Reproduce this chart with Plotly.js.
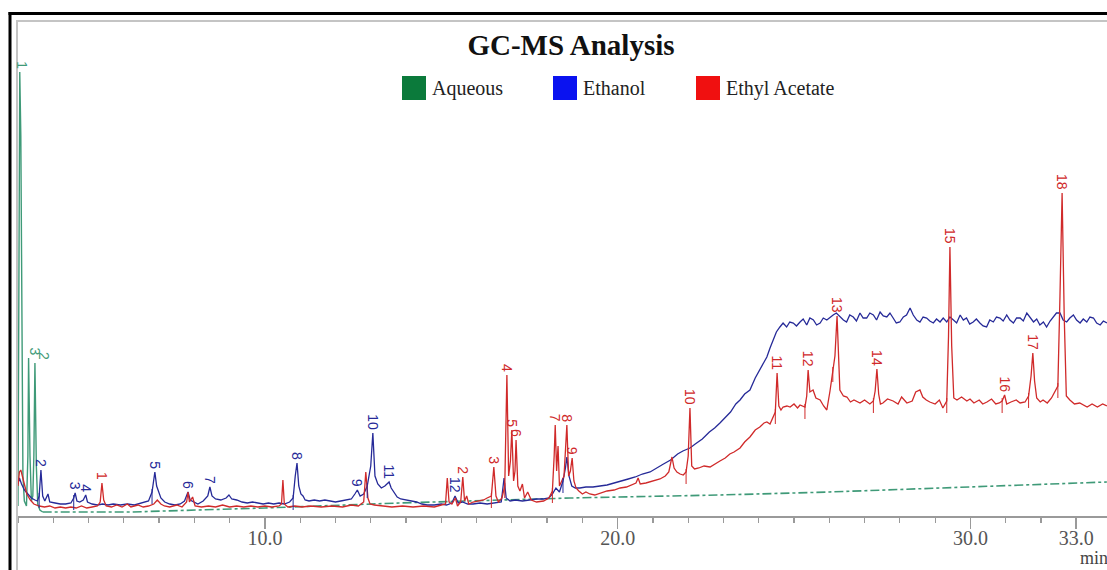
<!DOCTYPE html>
<html><head><meta charset="utf-8">
<script src="https://cdn.plot.ly/plotly-3.0.1.min.js"></script>
<style>html,body{margin:0;padding:0;background:#fff}#chart{width:1107px;height:570px}</style>
</head><body><div id="chart"></div>
<script>
// ---------- DATA (retention time in min, relative intensity) ----------
const seriesNames = ['Aqueous', 'Ethanol', 'Ethyl Acetate'];

const aqueousPeakTime = [3.00,3.02,3.05,3.08,3.11,3.14,3.18,3.24,3.28,3.30,3.34,3.38,3.42,3.45,3.48,3.52,3.56,3.62,3.70];
const aqueousPeakInt  = [10,150,444,380,150,40,15,10,60,158,60,15,20,60,153,50,12,6,4];
const aqueousBaseTime = [3.70,6.20,10.0,13.80,18.65,22.90,26.0,30.00,33.87];
const aqueousBaseInt  = [4,4,8,13,18,21,24,29,34];

const ethanolTime = [3.00,3.04,3.10,3.18,3.28,3.38,3.48,3.55,3.60,3.65,3.70,3.76,3.85,3.90,4.05,4.20,4.35,4.50,4.58,4.62,4.67,4.75,4.85,4.92,4.97,5.10,5.25,5.40,5.55,5.70,5.90,6.10,6.30,6.50,6.70,6.80,6.88,6.93,6.98,7.05,7.16,7.30,7.45,7.60,7.72,7.82,7.88,7.98,8.10,8.25,8.38,8.44,8.50,8.60,8.75,8.90,8.98,9.06,9.20,9.35,9.50,9.65,9.80,9.95,10.10,10.25,10.40,10.55,10.70,10.80,10.86,10.91,10.96,11.02,11.08,11.14,11.25,11.40,11.55,11.70,11.85,12.00,12.15,12.30,12.45,12.55,12.62,12.70,12.80,12.90,13.00,13.06,13.12,13.20,13.30,13.40,13.47,13.52,13.58,13.65,13.75,13.85,14.00,14.15,14.30,14.45,14.60,14.80,15.00,15.15,15.30,15.39,15.48,15.60,15.75,15.90,16.10,16.30,16.50,16.70,16.78,16.84,16.95,17.10,17.30,17.50,17.70,17.90,18.05,18.15,18.25,18.35,18.45,18.52,18.56,18.62,18.70,18.80,18.93,19.10,19.30,19.50,19.70,19.90,20.07,20.30,20.50,20.70,20.92,21.10,21.30,21.50,21.70,21.85,22.05,22.20,22.40,22.60,22.75,22.90,23.05,23.20,23.35,23.47,23.60,23.75,23.90,24.03,24.13,24.23,24.32,24.40,24.50,24.60,24.69,24.79,24.88,24.98,25.07,25.17,25.26,25.36,25.45,25.55,25.64,25.74,25.83,25.93,26.02,26.11,26.20,26.30,26.40,26.49,26.58,26.68,26.77,26.87,26.96,27.06,27.15,27.25,27.34,27.44,27.53,27.63,27.72,27.81,27.90,28.00,28.10,28.19,28.29,28.38,28.48,28.57,28.66,28.76,28.85,28.95,29.04,29.14,29.23,29.33,29.42,29.52,29.61,29.71,29.80,29.89,29.98,30.08,30.17,30.27,30.36,30.46,30.55,30.65,30.74,30.84,30.93,31.03,31.12,31.22,31.31,31.41,31.50,31.60,31.69,31.79,31.88,31.97,32.07,32.16,32.26,32.35,32.44,32.54,32.63,32.73,32.82,32.92,33.01,33.11,33.20,33.30,33.39,33.49,33.58,33.68,33.77,33.87];
const ethanolInt  = [32,38,32,26,22,18,16,15,20,46,20,15,22,14,13,12,12,13,18,23,15,14,16,21,14,12,11,12,11,12,11,12,11,13,15,24,44,30,24,18,14,12,11,12,15,24,16,14,12,15,20,29,20,17,16,18,21,17,16,14,13,14,13,12,13,12,13,12,14,18,40,53,30,22,20,16,15,16,15,16,15,14,15,16,17,22,26,20,22,30,50,83,40,32,28,30,33,34,28,24,19,17,16,15,14,12,11,11,12,11,13,20,13,14,12,12,13,12,13,14,38,18,15,16,15,16,17,17,18,22,28,24,35,48,59,40,30,28,28,29,29,30,31,33,35,37,39,42,44,48,52,56,62,65,68,72,77,84,88,93,99,104,112,116,122,126,138,146,153,159,168,176,184,189,193,189,194,193,190,194,197,191,198,196,191,193,198,196,199,201,203,199,196,194,201,199,195,203,198,198,203,201,196,204,200,199,203,198,193,194,199,201,208,201,196,194,199,198,195,193,197,194,198,194,199,196,193,201,196,198,192,194,197,193,190,189,196,194,199,198,195,201,196,193,198,198,195,203,199,194,197,191,194,189,195,199,203,203,196,194,198,201,196,193,197,194,199,198,193,191,195,193];

const ethylAcetateTime = [3.00,3.04,3.08,3.12,3.18,3.25,3.35,3.45,3.60,3.75,3.90,4.05,4.20,4.35,4.50,4.65,4.80,4.95,5.10,5.25,5.33,5.38,5.43,5.50,5.65,5.80,5.95,6.10,6.20,6.40,6.55,6.70,6.85,6.95,7.05,7.15,7.30,7.50,7.65,7.78,7.82,7.86,7.95,8.02,8.20,8.40,8.60,8.80,9.00,9.20,9.40,9.60,9.80,10.00,10.20,10.40,10.47,10.51,10.55,10.65,10.85,11.05,11.30,11.60,11.90,12.20,12.45,12.65,12.80,12.86,12.92,12.98,13.10,13.30,13.60,13.90,14.20,14.50,14.80,15.00,15.12,15.17,15.22,15.30,15.40,15.46,15.55,15.61,15.66,15.72,15.78,15.90,16.05,16.20,16.30,16.42,16.49,16.55,16.62,16.72,16.80,16.86,16.91,16.96,17.00,17.05,17.09,17.12,17.17,17.23,17.30,17.36,17.45,17.55,17.70,17.90,18.05,18.15,18.20,18.23,18.27,18.31,18.35,18.42,18.48,18.56,18.61,18.66,18.71,18.76,18.82,18.90,19.00,19.10,19.21,19.35,19.50,19.70,19.90,20.07,20.25,20.40,20.52,20.58,20.64,20.80,20.92,21.05,21.20,21.35,21.45,21.54,21.60,21.68,21.77,21.86,21.94,22.00,22.05,22.10,22.18,22.30,22.45,22.62,22.75,22.90,23.05,23.18,23.30,23.47,23.60,23.75,23.90,24.03,24.15,24.23,24.32,24.40,24.47,24.52,24.57,24.63,24.69,24.80,24.89,25.00,25.10,25.17,25.25,25.31,25.36,25.40,25.45,25.54,25.62,25.74,25.84,25.93,26.02,26.10,26.16,26.22,26.27,26.30,26.40,26.50,26.60,26.70,26.87,27.00,27.15,27.25,27.30,27.35,27.40,27.45,27.52,27.65,27.81,27.95,28.05,28.20,28.35,28.45,28.57,28.65,28.75,28.85,29.00,29.12,29.22,29.33,29.38,29.42,29.47,29.53,29.62,29.75,29.90,29.99,30.10,30.25,30.35,30.47,30.60,30.72,30.82,30.90,30.97,31.03,31.15,31.30,31.41,31.55,31.65,31.72,31.77,31.82,31.88,31.98,32.06,32.18,32.30,32.38,32.48,32.54,32.60,32.66,32.72,32.82,32.95,33.10,33.31,33.45,33.60,33.75,33.87];
const ethylAcetateInt  = [30,44,46,40,30,22,16,12,10,9,10,8,9,8,9,8,10,8,9,10,14,33,16,10,9,11,9,12,9,11,9,10,12,16,12,10,9,11,9,14,24,14,19,10,9,10,9,11,9,10,9,10,9,10,9,10,12,36,12,9,10,9,10,9,10,9,11,10,14,44,18,12,11,10,9,10,9,10,9,11,12,38,14,12,18,10,14,39,15,20,12,14,15,16,18,20,49,20,14,18,30,141,40,55,86,35,45,76,30,25,32,18,24,16,14,15,18,25,60,91,45,70,30,35,40,91,40,45,58,35,28,25,22,24,22,21,23,25,26,28,29,31,33,38,32,33,34,35,37,40,44,59,48,44,42,41,44,60,108,50,47,48,50,49,52,55,58,62,64,68,74,79,86,89,93,94,92,99,104,143,110,106,109,110,109,112,108,111,110,109,120,146,124,126,118,116,110,106,125,146,160,200,140,126,120,119,114,116,113,116,112,115,125,147,122,112,113,117,115,112,119,113,115,124,126,119,116,114,112,116,108,115,180,269,170,118,116,119,115,117,113,116,112,114,117,112,113,115,121,112,114,116,113,114,120,140,163,135,118,114,116,113,118,123,130,220,323,200,120,116,112,113,109,112,109,112,110];

// peak labels: label text, retention time
const aqueousLabels      = ['1','3','2'];
const aqueousLabelTimes  = [3.05,3.30,3.48];
const ethanolLabels      = ['2','3','4','5','6','7','8','9','10','11','12'];
const ethanolLabelTimes  = [3.65,4.62,4.92,6.88,7.82,8.44,10.91,12.62,13.06,13.52,15.39];
const ethylLabels        = ['1','2','3','4','5','6','7','8','9','10','11','12','13','14','15','16','17','18'];
const ethylLabelTimes    = [5.38,15.61,16.49,16.86,17.00,17.12,18.23,18.56,18.71,22.05,24.52,25.40,26.22,27.35,29.42,30.97,31.77,32.60];
// peak-start integration marks (retention time)
const ethylMarkTimes     = [16.42,16.80,18.15,21.94,24.47,25.31,26.10,27.25,29.33,30.90,31.65,32.48];
const ethanolMarkTimes   = [3.60,4.58,6.80,10.80,12.90,18.45];

const tickVals = [10, 20, 30, 33];
const tickText = ['10.0', '20.0', '30.0', '33.0'];

// ---------- STYLE ----------
const lineGreen = '#3f9a78', lineBlue = '#262a98', lineRed = '#d02a2a';
const keyColors = ['#0b7a3b', '#0a12f0', '#f01010'];
const serif = 'Liberation Serif, Times New Roman, serif';

const L = 18, R = 1107, T = 66, B = 516;
const px2x = p => (p - L) / (R - L);
const py2y = p => (B - p) / (B - T);

function valueAt(ts, vs, t) {
  let best = 0, bd = 1e9;
  ts.forEach((x, i) => { const d = Math.abs(x - t); if (d < bd) { bd = d; best = i; } });
  return vs[best];
}
function markTrace(times, ts, vs, color) {
  const x = [], y = [];
  times.forEach(t => { const v = valueAt(ts, vs, t); x.push(t, t, null); y.push(v - 12, v + 3, null); });
  return {x, y, mode: 'lines', line: {color: color, width: 1}, showlegend: false, hoverinfo: 'skip', connectgaps: false};
}

const traces = [
  {x: aqueousPeakTime, y: aqueousPeakInt, mode: 'lines', line: {color: lineGreen, width: 1.4}, showlegend: false, hoverinfo: 'skip'},
  {x: aqueousBaseTime, y: aqueousBaseInt, mode: 'lines', line: {color: lineGreen, width: 1.6, dash: 'dashdot'}, showlegend: false, hoverinfo: 'skip'},
  {x: ethanolTime, y: ethanolInt, mode: 'lines', line: {color: lineBlue, width: 1.3}, showlegend: false, hoverinfo: 'skip'},
  {x: ethylAcetateTime, y: ethylAcetateInt, mode: 'lines', line: {color: lineRed, width: 1.3}, showlegend: false, hoverinfo: 'skip'},
  markTrace(ethanolMarkTimes, ethanolTime, ethanolInt, lineBlue),
  markTrace(ethylMarkTimes, ethylAcetateTime, ethylAcetateInt, lineRed)
];

const annotations = [];
function addLabels(names, times, ts, vs, color, xshift) {
  names.forEach((n, i) => {
    annotations.push({x: times[i], y: valueAt(ts, vs, times[i]), xref: 'x', yref: 'y', text: n, showarrow: false,
      textangle: 90, xanchor: 'center', yanchor: 'bottom', yshift: 1, xshift: xshift ? xshift[i] : 0,
      font: {family: 'Liberation Sans, Arial, sans-serif', size: 14, color: color}});
  });
}
addLabels(aqueousLabels, aqueousLabelTimes, aqueousPeakTime, aqueousPeakInt, lineGreen, [2, 6, 9]);
addLabels(ethanolLabels, ethanolLabelTimes, ethanolTime, ethanolInt, lineBlue);
addLabels(ethylLabels, ethylLabelTimes, ethylAcetateTime, ethylAcetateInt, lineRed);

// legend (drawn as keys)
const keyX = [402, 553, 696];
const shapes = [];
seriesNames.forEach((n, i) => {
  shapes.push({type: 'rect', xref: 'paper', yref: 'paper', x0: px2x(keyX[i]), x1: px2x(keyX[i] + 24), y0: py2y(76), y1: py2y(100),
    fillcolor: keyColors[i], line: {width: 0}});
  annotations.push({xref: 'paper', yref: 'paper', x: px2x(keyX[i] + 28), y: py2y(88), text: n, showarrow: false,
    xanchor: 'left', yanchor: 'middle', font: {family: serif, size: 20, color: '#222'}});
});
annotations.push({xref: 'paper', yref: 'paper', x: px2x(1078), y: py2y(558), text: 'min', showarrow: false,
  xanchor: 'left', yanchor: 'middle', font: {family: serif, size: 18, color: '#444'}});

// frame
shapes.push({type: 'line', xref: 'paper', yref: 'paper', x0: px2x(10), x1: px2x(10), y0: py2y(12), y1: py2y(580), line: {color: '#000', width: 3}});
shapes.push({type: 'line', xref: 'paper', yref: 'paper', x0: px2x(8.5), x1: px2x(1120), y0: py2y(13.5), y1: py2y(13.5), line: {color: '#000', width: 3}});
shapes.push({type: 'line', xref: 'paper', yref: 'paper', x0: px2x(17), x1: px2x(17), y0: py2y(21), y1: py2y(580), line: {color: '#c4c4c4', width: 2}});
shapes.push({type: 'line', xref: 'paper', yref: 'paper', x0: px2x(16), x1: px2x(1120), y0: py2y(21), y1: py2y(21), line: {color: '#c4c4c4', width: 2}});

const layout = {
  width: 1107, height: 570,
  margin: {l: L, r: 1107 - R, t: T, b: 570 - B, pad: 0},
  paper_bgcolor: '#fff', plot_bgcolor: '#fff',
  showlegend: false,
  title: {text: '<b>GC-MS Analysis</b>', font: {family: serif, size: 29, color: '#111'},
    xref: 'container', yref: 'container', x: 571 / 1107, y: 1 - 45 / 570, xanchor: 'center', yanchor: 'middle'},
  xaxis: {range: [3.0, 33.873], showgrid: false, zeroline: false, showline: true, linecolor: '#9a9a9a', linewidth: 2,
    ticks: 'outside', ticklen: 11, tickwidth: 1.5, tickcolor: '#9a9a9a', tickmode: 'array', tickvals: tickVals, ticktext: tickText,
    ticklabelstandoff: -8,
    tickfont: {family: serif, size: 20, color: '#555'},
    minor: {tickmode: 'linear', tick0: 0, dtick: 1, ticks: 'outside', ticklen: 5, tickwidth: 1.2, tickcolor: '#9a9a9a', showgrid: false}},
  yaxis: {visible: false, range: [0, 450], showgrid: false, zeroline: false},
  shapes: shapes,
  annotations: annotations
};
Plotly.newPlot('chart', traces, layout, {displayModeBar: false, staticPlot: true});
</script></body></html>
